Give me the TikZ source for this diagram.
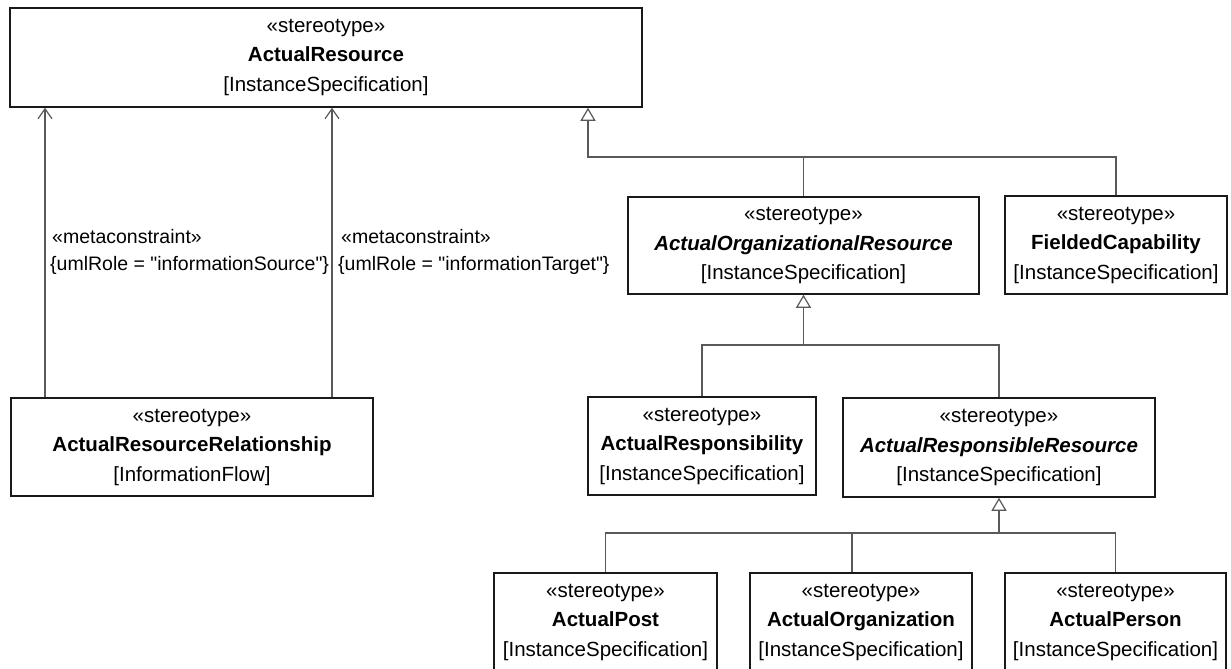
\documentclass[tikz,border=0pt]{standalone}
\usepackage{fontspec}
\setmainfont{Liberation Sans}
\newfontfamily\lblfont{Liberation Sans}[Ligatures=TeXOff]
\usetikzlibrary{arrows.meta}
\tikzset{
  umlbox/.style={draw=black!90, line width=1.5pt, fill=white, align=center, inner sep=0pt,
    font=\fontsize{20.5}{29.5}\selectfont},
  lbl/.style={anchor=west, inner sep=0pt, font=\lblfont\fontsize{19.5}{22}\selectfont},
  conn/.style={draw=black!65, line width=1.2pt},
  meta/.style={conn, -{Straight Barb[length=10pt,width=14pt,line width=1.2pt]}},
  gen/.style={conn, -{Triangle[open,length=13pt,width=15pt,line width=1.2pt,fill=white]}}
}
\newcommand{\isp}{{[InstanceSpecification]}}
\begin{document}
\begin{tikzpicture}[x=1pt,y=-1pt]
\useasboundingbox (0,0) rectangle (1231,669);
\fill[white] (0,0) rectangle (1231,669);

% boxes
\node[umlbox, minimum width=632pt, minimum height=99pt] (AR) at (326,57.5)
  {«stereotype»\\\textbf{ActualResource}\\\isp};
\node[umlbox, minimum width=362pt, minimum height=98pt] (ARRel) at (192,447)
  {«stereotype»\\\textbf{ActualResourceRelationship}\\{[InformationFlow]}};
\node[umlbox, minimum width=351pt, minimum height=97pt] (AOR) at (803.5,245.5)
  {«stereotype»\\\textbf{\textit{ActualOrganizationalResource}}\\\isp};
\node[umlbox, minimum width=222pt, minimum height=98pt] (FC) at (1116,245)
  {«stereotype»\\\textbf{FieldedCapability}\\\isp};
\node[umlbox, minimum width=228pt, minimum height=98pt] (ARsp) at (702,446)
  {«stereotype»\\\textbf{ActualResponsibility}\\\isp};
\node[umlbox, minimum width=312pt, minimum height=99pt] (ARRes) at (999,447.5)
  {«stereotype»\\\textbf{\textit{ActualResponsibleResource}}\\\isp};
\node[umlbox, minimum width=223pt, minimum height=98pt] (AP) at (605.5,622)
  {«stereotype»\\\textbf{ActualPost}\\\isp};
\node[umlbox, minimum width=222pt, minimum height=98pt] (AO) at (861,622)
  {«stereotype»\\\textbf{ActualOrganization}\\\isp};
\node[umlbox, minimum width=221pt, minimum height=98pt] (APer) at (1115.5,622)
  {«stereotype»\\\textbf{ActualPerson}\\\isp};

% metaconstraint dependencies
\coordinate (m1) at (45,0);
\coordinate (m2) at (332,0);
\draw[meta] (m1 |- ARRel.north) -- (m1 |- AR.south);
\draw[meta] (m2 |- ARRel.north) -- (m2 |- AR.south);
\node[lbl] (l1a) at (52,237) {«metaconstraint»};
\node[lbl] (l1b) at (50,265) {\{umlRole = "informationSource"\}};
\node[lbl] (l2a) at (341,237) {«metaconstraint»};
\node[lbl] (l2b) at (338,265) {\{umlRole = "informationTarget"\}};

% generalization to ActualResource
\coordinate (g1) at (588,157);
\draw[gen] (FC.north) -- (FC.north |- g1) -- (g1) -- (g1 |- AR.south);
\draw[conn] (AOR.north) -- (AOR.north |- g1);

% generalization to ActualOrganizationalResource
\coordinate (g2) at (803.5,345);
\draw[gen] (ARsp.north) |- (g2) -- (AOR.south);
\draw[conn] (ARRes.north) |- (g2);

% generalization to ActualResponsibleResource
\coordinate (g3) at (999,533);
\coordinate (c3) at (852,533);
\draw[gen] (AP.north) |- (g3) -- (ARRes.south);
\draw[conn] (APer.north) |- (g3);
\draw[conn] (c3 |- AO.north) -- (c3);
\end{tikzpicture}
\end{document}
